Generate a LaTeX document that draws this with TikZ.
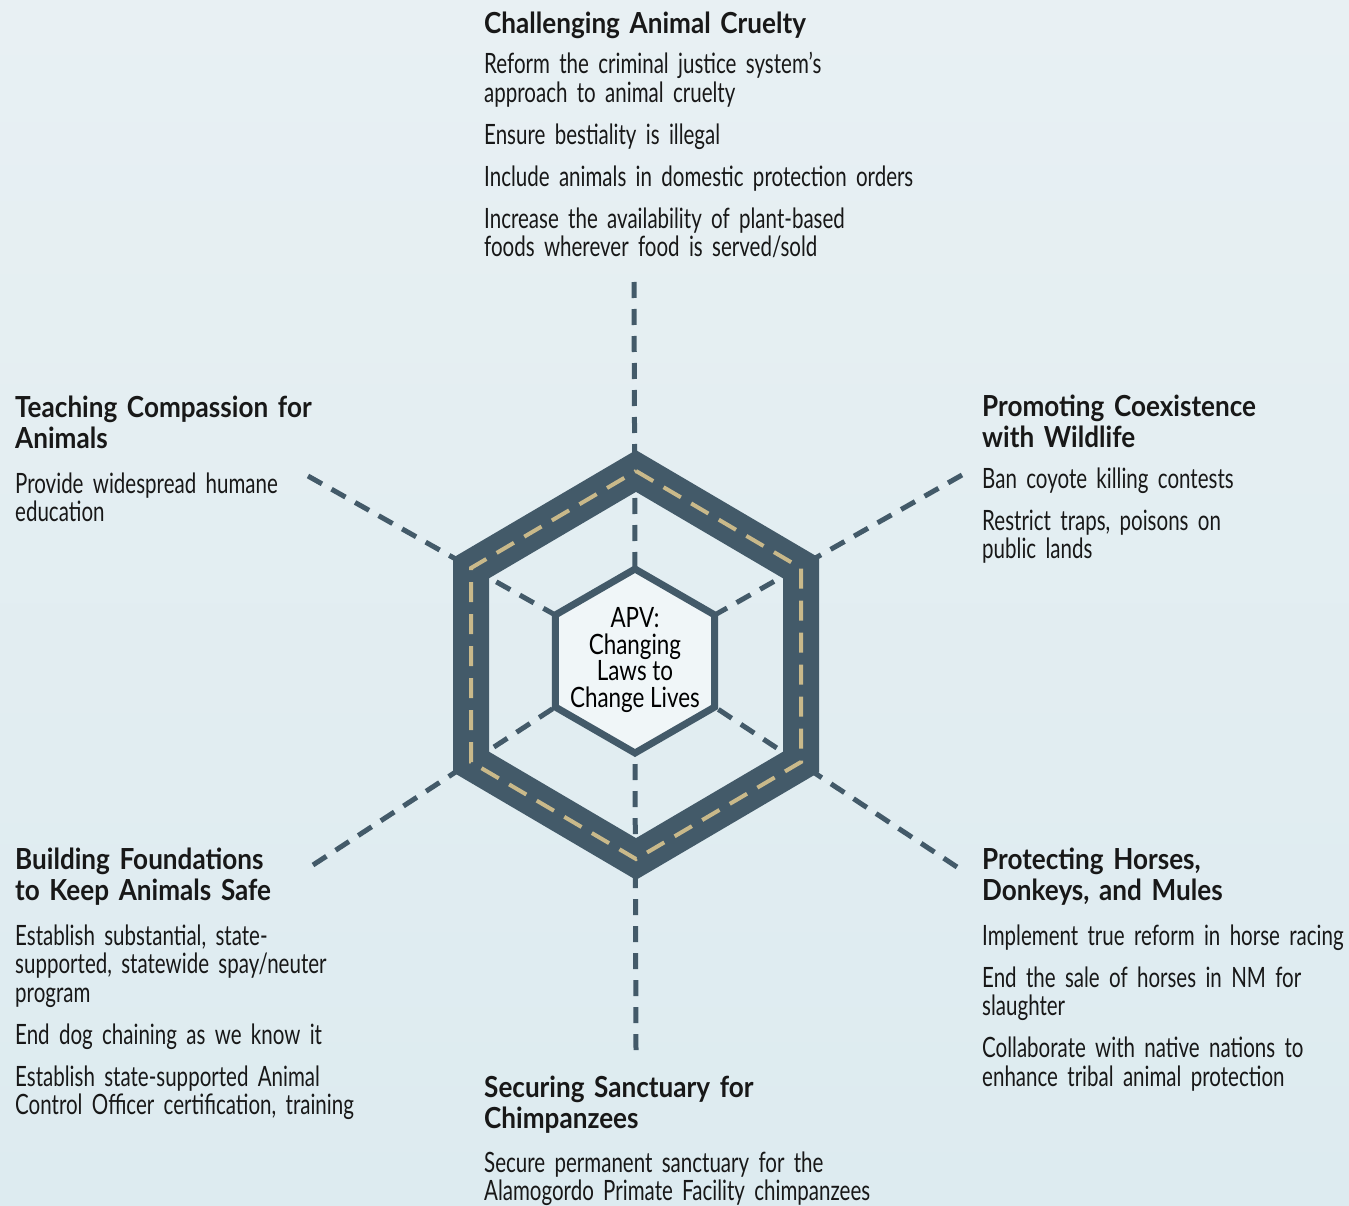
\documentclass[tikz,border=0pt]{standalone}
\usepackage{fontspec}
\setmainfont{Lato}[FakeStretch=0.733]
\newfontfamily\ttlfont{Lato}[FakeStretch=0.9]
\newfontfamily\cfont{Lato}[FakeStretch=0.8]
\setlength\parindent{0pt}
\hyphenpenalty=10000
\exhyphenpenalty=10000
\definecolor{slate}{HTML}{435A69}
\definecolor{sand}{HTML}{C9B98A}
\definecolor{innerfill}{HTML}{F0F6F8}
\definecolor{ink}{HTML}{181818}
\definecolor{bgtop}{HTML}{E8F0F3}
\definecolor{bgbot}{HTML}{DDEBF0}
\begin{document}
\begin{tikzpicture}[x=1pt,y=-1pt,
  ttl/.style={anchor=base west, inner sep=0pt, text width=600pt, align=left, text=ink,
    font=\ttlfont\fontsize{29}{31}\selectfont\bfseries},
  bdy/.style={anchor=base west, inner sep=0pt, text width=600pt, align=left, text=ink,
    font=\fontsize{28}{28.5}\selectfont},
  spoke/.style={slate, line width=5pt, dash pattern=on 16pt off 11pt},
  band/.style={slate, line width=36pt, line join=miter},
  bandline/.style={sand, line width=4pt, dash pattern=on 20pt off 12pt, line join=miter},
  core/.style={slate, line width=7pt, fill=innerfill, line join=miter}]
\fill[top color=bgtop, bottom color=bgbot] (0,0) rectangle (1349,1206);
\useasboundingbox (0,0) rectangle (1349,1206);
% outer hexagon (band centreline)
\coordinate (o1) at (636,471);
\coordinate (o2) at (801,568);
\coordinate (o3) at (801,762);
\coordinate (o4) at (636,859);
\coordinate (o5) at (471,762);
\coordinate (o6) at (471,568);
% inner hexagon
\coordinate (i1) at (635,569);
\coordinate (i2) at (714.7,615);
\coordinate (i3) at (714.7,707);
\coordinate (i4) at (635,753);
\coordinate (i5) at (555.3,707);
\coordinate (i6) at (555.3,615);
% spoke ends
\coordinate (e1) at (634,282);
\coordinate (e2) at (962,475);
\coordinate (e3) at (957,867);
\coordinate (e4) at (636,1050);
\coordinate (e5) at (313,865);
\coordinate (e6) at (308,476);
\foreach \k in {1,...,6} { \draw[spoke] (e\k) -- (i\k); }
\draw[band] (o1) -- (o2) -- (o3) -- (o4) -- (o5) -- (o6) -- cycle;
\draw[bandline] (o1) -- (o2) -- (o3) -- (o4) -- (o5) -- (o6) -- cycle;
\draw[core] (i1) -- (i2) -- (i3) -- (i4) -- (i5) -- (i6) -- cycle;
\node[align=center, inner sep=0pt, text=black, font=\cfont\fontsize{28}{26.5}\selectfont] (apv) at (635,660)
  {APV:\\Changing\\Laws to\\Change Lives};
% top block
\node[ttl] (t1) at (484,34) {Challenging Animal Cruelty};
\node[bdy] (b1) at (484,74) {Reform the criminal justice system’s\\approach to animal cruelty\par\vspace{13.5pt}
  Ensure bestiality is illegal\par\vspace{13.5pt}
  Include animals in domestic protection orders\par\vspace{13.5pt}
  Increase the availability of plant-based\\foods wherever food is served/sold};
% teaching
\node[ttl] (t2) at (15,417) {Teaching Compassion for\\Animals};
\node[bdy] (b2) at (15,493) {Provide widespread humane\\education};
% promoting
\node[ttl] (t3) at (982,416) {Promoting Coexistence\\with Wildlife};
\node[bdy] (b3) at (982,488) {Ban coyote killing contests\par\vspace{13.5pt}
  Restrict traps, poisons on\\public lands};
% building
\node[ttl] (t4) at (15,869) {Building Foundations\\to Keep Animals Safe};
\node[bdy] (b4) at (15,945) {Establish substantial, state-\\supported, statewide spay/neuter\\program\par\vspace{13.5pt}
  End dog chaining as we know it\par\vspace{13.5pt}
  Establish state-supported Animal\\Control Officer certification, training};
% protecting
\node[ttl] (t5) at (982,869) {Protecting Horses,\\Donkeys, and Mules};
\node[bdy] (b5) at (982,945) {Implement true reform in horse racing\par\vspace{13.5pt}
  End the sale of horses in NM for\\slaughter\par\vspace{13.5pt}
  Collaborate with native nations to\\enhance tribal animal protection};
% securing
\node[ttl] (t6) at (484,1097) {Securing Sanctuary for\\Chimpanzees};
\node[bdy] (b6) at (484,1172) {Secure permanent sanctuary for the\\Alamogordo Primate Facility chimpanzees};
\end{tikzpicture}
\end{document}
